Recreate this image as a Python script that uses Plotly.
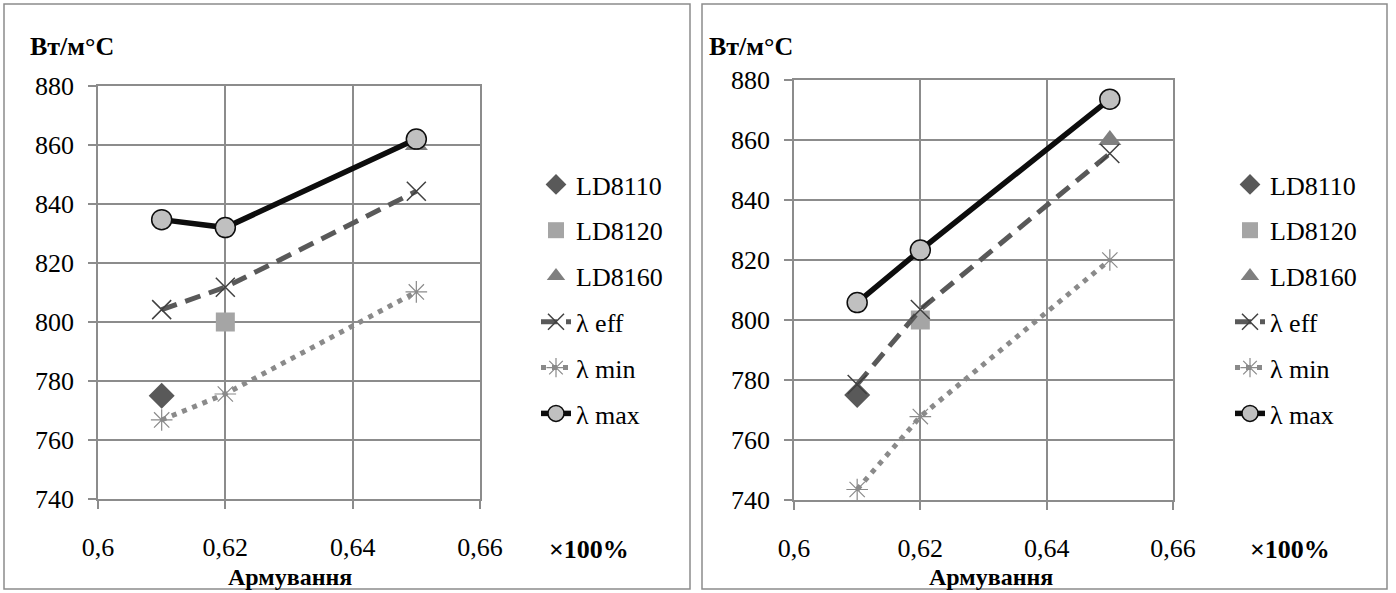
import plotly.graph_objects as go

# ---- data ----
x_pts = [0.61, 0.62, 0.65]
x_ticks = [0.6, 0.62, 0.64, 0.66]
x_ticklabels = ["0,6", "0,62", "0,64", "0,66"]
y_ticks = [740, 760, 780, 800, 820, 840, 860, 880]

# left chart
L_ld8110 = [775]
L_ld8120 = [800]
L_ld8160 = [860]
L_eff = [804.2, 811.8, 844.3]
L_min = [766.8, 775.6, 810.2]
L_max = [834.7, 832.0, 862.0]

# right chart
R_ld8110 = [775]
R_ld8120 = [800]
R_ld8160 = [860]
R_eff = [778.5, 803.5, 855.5]
R_min = [743.5, 767.8, 820.0]
R_max = [805.8, 823.3, 873.6]

W, H = 1396, 593
FONT = "Liberation Serif"


def px(x):
    return x / W


def py(y):
    return 1 - y / H


fig = go.Figure()


def add_panel(xa, ya, leg, d8110, d8120, d8160, eff, mn, mx):
    xr = "x" if xa == 1 else f"x{xa}"
    yr = "y" if ya == 1 else f"y{ya}"
    common = dict(xaxis=xr, yaxis=yr, legend=leg)
    fig.add_trace(go.Scatter(x=[x_pts[0]], y=d8110, mode="markers", name="LD8110",
                             marker=dict(symbol="diamond", size=20, color="#595959"),
                             legendgroup=leg + "a", **common))
    fig.add_trace(go.Scatter(x=[x_pts[1]], y=d8120, mode="markers", name="LD8120",
                             marker=dict(symbol="square", size=19, color="#a5a5a5"),
                             legendgroup=leg + "b", **common))
    fig.add_trace(go.Scatter(x=[x_pts[2]], y=d8160, mode="markers", name="LD8160",
                             marker=dict(symbol="triangle-up", size=20, color="#7f7f7f"),
                             legendgroup=leg + "c", **common))
    fig.add_trace(go.Scatter(x=x_pts, y=eff, mode="lines+markers", name="λ eff",
                             line=dict(color="#595959", width=5, dash="16px,9px"),
                             marker=dict(symbol="x-thin", size=19,
                                         line=dict(color="#404040", width=1.5)),
                             legendgroup=leg + "d", **common))
    fig.add_trace(go.Scatter(x=x_pts, y=mn, mode="lines+markers", name="λ min",
                             line=dict(color="#8a8a8a", width=5, dash="5px,6px"),
                             marker=dict(symbol="asterisk-open", size=18, color="#8a8a8a",
                                         line=dict(color="#8a8a8a", width=1.2)),
                             legendgroup=leg + "e", **common))
    fig.add_trace(go.Scatter(x=x_pts, y=mx, mode="lines+markers", name="λ max",
                             line=dict(color="#0d0d0d", width=5.5),
                             marker=dict(symbol="circle", size=20, color="#c0c0c0",
                                         line=dict(color="#0d0d0d", width=1.5)),
                             legendgroup=leg + "f", **common))


add_panel(1, 1, "legend", L_ld8110, L_ld8120, L_ld8160, L_eff, L_min, L_max)
add_panel(2, 2, "legend2", R_ld8110, R_ld8120, R_ld8160, R_eff, R_min, R_max)

axis_x = dict(range=[0.6, 0.66], tickvals=x_ticks, ticktext=x_ticklabels,
              showgrid=True, gridcolor="#8c8c8c", gridwidth=1.5,
              showline=True, linecolor="#8c8c8c", linewidth=1.5, mirror=True,
              zeroline=False, automargin=False,
              ticks="outside", ticklen=8, tickcolor="#8c8c8c", tickwidth=1.5,
              tickfont=dict(family=FONT, size=26, color="#000"),
              ticklabelstandoff=16)
axis_y = dict(range=[740, 880], tickvals=y_ticks,
              showgrid=True, gridcolor="#8c8c8c", gridwidth=1.5,
              showline=True, linecolor="#8c8c8c", linewidth=1.5, mirror=True,
              zeroline=False, automargin=False,
              ticks="outside", ticklen=8, tickcolor="#8c8c8c", tickwidth=1.5,
              tickfont=dict(family=FONT, size=26, color="#000"),
              ticklabelstandoff=9)

fig.update_layout(
    template="none",
    width=W, height=H, autosize=False,
    margin=dict(l=0, r=0, t=0, b=0, pad=0, autoexpand=False),
    paper_bgcolor="white", plot_bgcolor="white",
    font=dict(family=FONT, size=26, color="#000"),
    xaxis=dict(domain=[px(98), px(480)], anchor="y", **axis_x),
    yaxis=dict(domain=[py(499), py(86)], anchor="x", **axis_y),
    xaxis2=dict(domain=[px(794), px(1173)], anchor="y2", **axis_x),
    yaxis2=dict(domain=[py(500), py(80)], anchor="x2", **axis_y),
    legend=dict(x=px(536), y=py(161), xanchor="left", yanchor="top",
                font=dict(family=FONT, size=26), tracegroupgap=9,
                bgcolor="rgba(0,0,0,0)"),
    legend2=dict(x=px(1230), y=py(161), xanchor="left", yanchor="top",
                 font=dict(family=FONT, size=26), tracegroupgap=9,
                 bgcolor="rgba(0,0,0,0)"),
    showlegend=True,
)

# panel borders
for x0, x1 in [(4, 690), (702, 1387)]:
    fig.add_shape(type="rect", xref="paper", yref="paper",
                  x0=px(x0), x1=px(x1), y0=py(589), y1=py(4),
                  line=dict(color="#8c8c8c", width=1.5), fillcolor="rgba(0,0,0,0)")

# annotations
for xu, xt, xc in [(28, 589, 290), (707, 1290, 991)]:
    fig.add_annotation(text="<b>Вт/м°С</b>", xref="paper", yref="paper",
                       x=px(xu), y=py(47), xanchor="left", yanchor="middle",
                       showarrow=False, font=dict(family=FONT, size=26))
    fig.add_annotation(text="<b>×100%</b>", xref="paper", yref="paper",
                       x=px(xt), y=py(549), xanchor="center", yanchor="middle",
                       showarrow=False, font=dict(family=FONT, size=26))
    fig.add_annotation(text="<b>Армування</b>", xref="paper", yref="paper",
                       x=px(xc), y=py(577), xanchor="center", yanchor="middle",
                       showarrow=False, font=dict(family=FONT, size=24))

fig.write_html("out.html", config={"displayModeBar": False},
               post_script="document.body.style.margin='0';document.body.style.padding='0';")
